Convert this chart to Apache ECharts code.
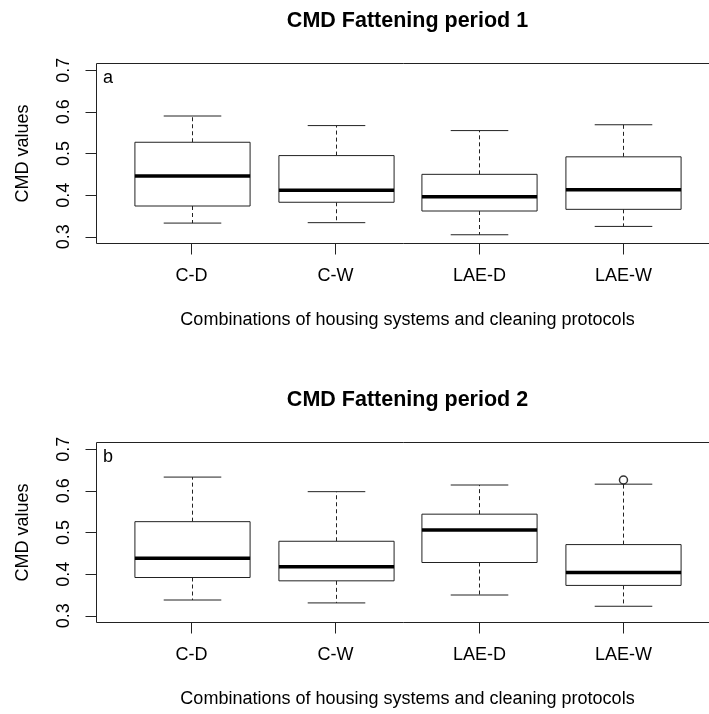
<!DOCTYPE html>
<html>
<head>
<meta charset="utf-8">
<script src="https://cdn.jsdelivr.net/npm/echarts@6/dist/echarts.min.js"></script>
<style>
html,body{margin:0;padding:0;background:#fff;}
#chart{width:709px;height:714px;}
</style>
</head>
<body>
<div id="chart"></div>
<script>
// ---- data ----
const categories = ['C-D', 'C-W', 'LAE-D', 'LAE-W'];
const yTicks = [0.3, 0.4, 0.5, 0.6, 0.7];
const titles = ['CMD Fattening period 1', 'CMD Fattening period 2'];
const panelLetters = ['a', 'b'];

// Period 1
const p1Low  = [0.333, 0.334, 0.305, 0.325];
const p1Q1   = [0.374, 0.383, 0.362, 0.366];
const p1Med  = [0.446, 0.412, 0.396, 0.413];
const p1Q3   = [0.527, 0.495, 0.450, 0.492];
const p1High = [0.590, 0.567, 0.555, 0.569];
const p1Outliers = [];

// Period 2
const p2Low  = [0.338, 0.331, 0.350, 0.323];
const p2Q1   = [0.392, 0.384, 0.428, 0.373];
const p2Med  = [0.438, 0.418, 0.506, 0.404];
const p2Q3   = [0.526, 0.479, 0.544, 0.471];
const p2High = [0.633, 0.598, 0.614, 0.616];
const p2Outliers = [[4, 0.626]]; // [category position, value]

// ---- build ----
const FONT = '"Liberation Sans", Arial, Helvetica, sans-serif';
function boxData(low, q1, med, q3, high) {
  return categories.map((c, i) => [i + 1, low[i], q1[i], med[i], q3[i], high[i]]);
}
const panels = [
  { data: boxData(p1Low, p1Q1, p1Med, p1Q3, p1High), out: p1Outliers, top: 63.5 },
  { data: boxData(p2Low, p2Q1, p2Med, p2Q3, p2High), out: p2Outliers, top: 442.5 }
];
const GRID_LEFT = 96.5, GRID_W = 622, GRID_H = 180;

function renderBox(params, api) {
  const x = api.value(0);
  const low = api.coord([x, api.value(1)]);
  const q1 = api.coord([x, api.value(2)]);
  const med = api.coord([x, api.value(3)]);
  const q3 = api.coord([x, api.value(4)]);
  const high = api.coord([x, api.value(5)]);
  const bw = api.size([0.8, 0])[0];
  const cw = bw / 2;
  const cx = Math.round(q1[0]) + 0.5;
  const thin = { stroke: '#222', lineWidth: 1 };
  const dash = { stroke: '#222', lineWidth: 1, lineDash: [4, 3] };
  return {
    type: 'group',
    children: [
      { type: 'line', shape: { x1: cx, y1: q3[1], x2: cx, y2: high[1] }, style: dash },
      { type: 'line', shape: { x1: cx, y1: q1[1], x2: cx, y2: low[1] }, style: dash },
      { type: 'line', shape: { x1: cx - cw / 2, y1: high[1], x2: cx + cw / 2, y2: high[1] }, style: thin },
      { type: 'line', shape: { x1: cx - cw / 2, y1: low[1], x2: cx + cw / 2, y2: low[1] }, style: thin },
      { type: 'rect', shape: { x: cx - bw / 2, y: q3[1], width: bw, height: q1[1] - q3[1] },
        style: { fill: '#fff', stroke: '#222', lineWidth: 1 } },
      { type: 'line', shape: { x1: cx - bw / 2, y1: med[1], x2: cx + bw / 2, y2: med[1] },
        style: { stroke: '#000', lineWidth: 3.5 } }
    ]
  };
}

const grid = [], xAxis = [], yAxis = [], series = [], graphic = [];
panels.forEach((p, k) => {
  grid.push({ left: GRID_LEFT, top: p.top, width: GRID_W, height: GRID_H, show: true,
    borderColor: '#222', borderWidth: 1, backgroundColor: 'transparent', containLabel: false, outerBoundsMode: 'none' });
  xAxis.push({
    type: 'value', gridIndex: k, min: 0.34, max: 4.66,
    name: 'Combinations of housing systems and cleaning protocols',
    nameLocation: 'middle', nameGap: 68,
    nameTextStyle: { fontSize: 18, color: '#000', fontFamily: FONT },
    axisLine: { show: false },
    splitLine: { show: false },
    axisTick: { show: true, length: 11, customValues: [1, 2, 3, 4], lineStyle: { color: '#222' } },
    axisLabel: { show: true, customValues: [1, 2, 3, 4], margin: 24, fontSize: 18, color: '#000', fontFamily: FONT,
      formatter: v => categories[Math.round(v) - 1] }
  });
  yAxis.push({
    type: 'value', gridIndex: k, min: 0.284, max: 0.716,
    name: 'CMD values', nameLocation: 'middle', nameGap: 64,
    nameTextStyle: { fontSize: 18, color: '#000', fontFamily: FONT },
    axisLine: { show: false },
    splitLine: { show: false },
    axisTick: { show: true, length: 11, customValues: yTicks, lineStyle: { color: '#222' } },
    axisLabel: { show: true, customValues: yTicks, rotate: 90, margin: 23, fontSize: 18, color: '#000', fontFamily: FONT,
      formatter: v => v.toFixed(1) }
  });
  series.push({
    type: 'custom', xAxisIndex: k, yAxisIndex: k, renderItem: renderBox,
    encode: { x: 0, y: [1, 2, 3, 4, 5] }, data: p.data, clip: false, silent: true
  });
  if (p.out.length) {
    series.push({
      type: 'scatter', xAxisIndex: k, yAxisIndex: k, data: p.out, symbol: 'circle', symbolSize: 8,
      itemStyle: { color: '#fff', borderColor: '#000', borderWidth: 1.5 }, silent: true, z: 5
    });
  }
  graphic.push({
    type: 'text', x: 407.5, y: p.top - 42.5,
    style: { text: titles[k], font: 'bold 21.5px ' + FONT, fill: '#000',
      align: 'center', verticalAlign: 'middle', textAlign: 'center', textVerticalAlign: 'middle' }
  });
  graphic.push({
    type: 'text', x: 103, y: p.top + 14.5,
    style: { text: panelLetters[k], font: '18px ' + FONT, fill: '#000',
      align: 'left', verticalAlign: 'middle', textAlign: 'left', textVerticalAlign: 'middle' }
  });
});

const chart = echarts.init(document.getElementById('chart'), null, { renderer: 'canvas' });
chart.setOption({
  animation: false,
  backgroundColor: '#fff',
  textStyle: { fontFamily: FONT },
  grid, xAxis, yAxis, series, graphic
});
</script>
</body>
</html>
